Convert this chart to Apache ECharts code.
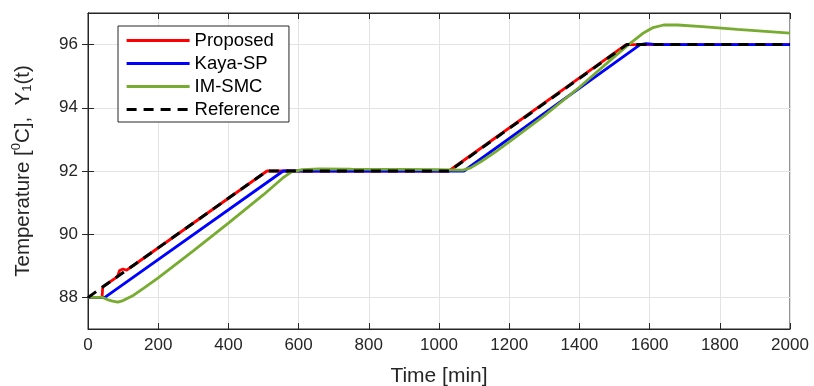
<!DOCTYPE html>
<html><head><meta charset="utf-8">
<script src="https://cdn.jsdelivr.net/npm/echarts@6/dist/echarts.min.js"></script>
<style>html,body{margin:0;padding:0;background:#fff}#c{width:814px;height:386px}</style>
</head><body><div id="c"></div>
<script>
const seriesNames = ['Proposed', 'Kaya-SP', 'IM-SMC', 'Reference'];
const xTicks = [0, 200, 400, 600, 800, 1000, 1200, 1400, 1600, 1800, 2000];
const yTicks = [88, 90, 92, 94, 96];

const proposed = [[0,88],[40,88],[42,88.33],[84,88.66],[90,88.85],[100,88.9],[110,88.86],[124,88.97],[510,92],[1028,92],[1533,96],[2000,96]];
const kayaSP = [[0,88],[48,88],[556,92],[1071,92],[1573,96],[1590,96.03],[1620,96.0],[2000,96]];
const imSMC = [[0,88],[42,88],[55,87.93],[70,87.88],[85,87.85],[100,87.9],[130,88.07],[160,88.3],[200,88.62],[300,89.47],[400,90.35],[500,91.25],[555,91.78],[580,91.97],[610,92.04],[660,92.07],[750,92.06],[900,92.05],[1000,92.04],[1068,92.03],[1090,92.1],[1120,92.3],[1160,92.6],[1200,92.92],[1300,93.75],[1400,94.65],[1500,95.62],[1540,96.0],[1580,96.35],[1610,96.54],[1640,96.62],[1680,96.62],[1750,96.57],[1850,96.48],[1950,96.4],[2000,96.36]];
const reference = [[0,88],[510,92],[1030,92],[1535,96],[2000,96]];

const chart = echarts.init(document.getElementById('c'));
const axisCol = '#262626';
const gridCol = '#e3e3e3';
const font = 'Liberation Sans, Arial, sans-serif';

function mk(name, data, color, type, width, z) {
  return { name, type: 'line', data, showSymbol: false, symbol: 'none', z,
    lineStyle: { color, width, type }, itemStyle: { color }, animation: false };
}

chart.setOption({
  animation: false,
  grid: { left: 88, right: 24, top: 13, bottom: 57, show: true, borderColor: axisCol, borderWidth: 1,
    outerBoundsMode: 'none', containLabel: false },
  legend: {
    orient: 'vertical', left: 118, top: 26,
    backgroundColor: '#fff', borderColor: axisCol, borderWidth: 1,
    padding: [5, 9, 3, 7], itemGap: 4, itemWidth: 63, itemHeight: 14,
    itemStyle: { opacity: 0 }, lineStyle: { width: 3.2 },
    textStyle: { fontSize: 18.5, fontFamily: font, color: '#000' },
    data: seriesNames
  },
  xAxis: [{
    type: 'value', min: 0, max: 2000, interval: 200,
    name: 'Time [min]', nameLocation: 'middle', nameGap: 37,
    nameTextStyle: { fontSize: 21, fontFamily: font, color: axisCol },
    axisLine: { lineStyle: { color: axisCol } },
    axisTick: { inside: true, length: 6, lineStyle: { color: axisCol } },
    axisLabel: { fontSize: 17, fontFamily: font, color: axisCol, margin: 8, formatter: v => String(v) },
    splitLine: { show: true, lineStyle: { color: gridCol } }
  }, {
    type: 'value', min: 0, max: 2000, interval: 200, position: 'top',
    axisLine: { show: true, lineStyle: { color: axisCol } },
    axisTick: { inside: true, length: 6, lineStyle: { color: axisCol } },
    axisLabel: { show: false }, splitLine: { show: false }
  }],
  yAxis: [{
    type: 'value', min: 87, max: 97,
    axisTick: { inside: true, length: 6, customValues: yTicks, lineStyle: { color: axisCol } },
    axisLabel: { fontSize: 17, fontFamily: font, color: axisCol, margin: 10, customValues: yTicks },
    name: 'Temperature [{sup|0}C],  Y{sub|1}(t)', nameLocation: 'middle', nameGap: 52,
    nameTextStyle: { fontSize: 20.5, fontFamily: font, color: axisCol,
      rich: { sup: { fontSize: 13, verticalAlign: 'bottom', padding: [0,0,13,0], fontFamily: font, color: axisCol },
              sub: { fontSize: 13, verticalAlign: 'top', padding: [11,0,0,0], fontFamily: font, color: axisCol } } },
    axisLine: { show: true, lineStyle: { color: axisCol } },
    splitLine: { show: true, lineStyle: { color: gridCol } }
  }, {
    type: 'value', min: 87, max: 97, position: 'right',
    axisTick: { show: true, inside: true, length: 6, customValues: yTicks, lineStyle: { color: axisCol } },
    axisLabel: { show: false, customValues: yTicks },
    axisLine: { show: true, lineStyle: { color: axisCol } },
    splitLine: { show: false }
  }],
  series: [
    mk('Proposed', proposed, '#ff0000', 'solid', 2.8, 2),
    mk('Kaya-SP', kayaSP, '#0000ff', 'solid', 2.8, 3),
    mk('IM-SMC', imSMC, '#77ac30', 'solid', 2.8, 4),
    mk('Reference', reference, '#000000', [10, 7], 3, 5)
  ]
});
</script></body></html>
